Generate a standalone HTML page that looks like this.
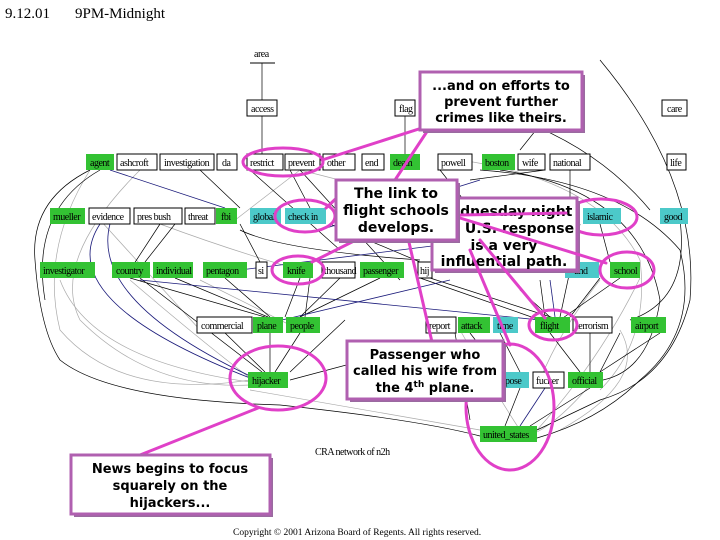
<!DOCTYPE html>
<html><head><meta charset="utf-8"><style>
html,body{margin:0;padding:0;background:#fff;}
svg{display:block}
.n{font-family:"Liberation Serif",serif;font-size:10px;letter-spacing:-0.5px;fill:#000}
.cb{font-family:"DejaVu Sans","Liberation Sans",sans-serif;font-size:13px;font-weight:bold;fill:#000}
</style></head><body>
<svg width="720" height="540" viewBox="0 0 720 540" xmlns="http://www.w3.org/2000/svg">
<rect width="720" height="540" fill="#fff"/>
<text x="5" y="18" font-family="Liberation Serif,serif" font-size="15">9.12.01</text>
<text x="75" y="18" font-family="Liberation Serif,serif" font-size="15">9PM-Midnight</text>

<g stroke="#aaa" stroke-width="0.7" fill="none">
<path d="M90 170 Q40 250 60 330 Q120 400 250 380"/>
<path d="M140 170 Q50 260 80 320 Q150 390 250 385"/>
<path d="M60 280 Q90 360 250 382"/>
<path d="M130 280 Q200 340 250 378"/>
<path d="M230 224 L300 170"/>
<path d="M460 160 Q600 180 640 260 Q650 340 600 390"/>
<path d="M600 280 Q560 330 540 380"/>
<path d="M640 278 Q600 360 537 430"/>
<path d="M300 170 Q420 200 520 230"/>
<path d="M200 280 L300 330"/>
<path d="M460 330 Q500 400 520 430"/>
<path d="M620 330 Q650 380 560 430"/>
<path d="M250 390 L480 430"/>
<path d="M100 220 L200 330"/>
<path d="M590 385 Q560 420 537 432"/>
<path d="M160 224 Q230 250 300 270"/>
</g>
<g stroke="#000" stroke-width="0.7" fill="none">
<path d="M262 63 V100 M262 116 V154"/>
<path d="M405 116 V154"/>
<path d="M90 170 Q30 200 35 260 Q40 330 60 360 Q110 400 280 405 Q420 420 480 436"/>
<path d="M100 170 Q30 210 45 300"/>
<path d="M545 170 L470 180"/>
<path d="M570 170 V200"/>
<path d="M480 170 Q620 180 680 250 Q700 330 640 380 Q600 420 537 438"/>
<path d="M500 170 Q640 190 660 300 Q650 370 603 380"/>
<path d="M520 120 Q600 150 650 210"/>
<path d="M600 60 Q700 180 690 300 Q670 380 600 400 L537 430"/>
<path d="M160 224 L130 270 M175 224 L145 262"/>
<path d="M130 278 L265 317 M140 278 L262 372 M175 278 L268 317 M225 278 L270 317"/>
<path d="M270 333 L270 372 M300 333 L275 372 M225 333 L265 372 M290 372 L345 320 M290 380 L440 340"/>
<path d="M300 278 L285 317 M310 278 L305 317 M340 278 L300 317"/>
<path d="M380 278 L300 317 M420 278 L540 320 M430 278 L560 320"/>
<path d="M250 170 L340 250 M290 170 L310 208 M300 170 L400 280"/>
<path d="M200 170 L240 208 M240 224 L260 262"/>
<path d="M240 230 Q280 250 420 260"/>
<path d="M330 224 L420 262 M580 224 L560 317 M600 224 L610 262"/>
<path d="M620 278 L560 320 M660 333 L600 372 M620 333 L600 372 M590 333 L590 372"/>
<path d="M470 333 L500 372 M500 333 L520 372 M550 333 L580 372"/>
<path d="M520 290 L550 317 M540 280 L545 317 M600 278 L570 317"/>
<path d="M455 333 L470 420 M590 388 L530 426 M520 388 L505 426"/>
<path d="M440 170 L470 208 M520 150 L560 100"/>
<path d="M630 320 Q690 300 680 220"/>
</g>
<g stroke="#1a1a7a" stroke-width="0.8" fill="none">
<path d="M110 170 L225 208"/>
<path d="M100 224 Q50 300 250 378"/>
<path d="M110 224 Q90 300 250 376"/>
<path d="M140 280 L540 320"/>
<path d="M282 320 L450 280"/>
<path d="M240 270 L560 230"/>
<path d="M320 230 L480 180"/>
<path d="M545 388 L520 426"/>
<path d="M550 280 L555 317"/>
</g>

<text class="n" x="254" y="57">area</text>
<line x1="250" y1="63" x2="275" y2="63" stroke="#000" stroke-width="1"/>

<g stroke="#000" stroke-width="1">
<rect x="247" y="100" width="30" height="16" fill="#fff"/>
<rect x="395" y="100" width="20" height="16" fill="#fff"/>
<rect x="662" y="100" width="25" height="16" fill="#fff"/>
<rect x="117" y="154" width="40" height="16" fill="#fff"/>
<rect x="160" y="154" width="54" height="16" fill="#fff"/>
<rect x="217" y="154" width="20" height="16" fill="#fff"/>
<rect x="247" y="154" width="36" height="16" fill="#fff"/>
<rect x="285" y="154" width="35" height="16" fill="#fff"/>
<rect x="323" y="154" width="32" height="16" fill="#fff"/>
<rect x="362" y="154" width="22" height="16" fill="#fff"/>
<rect x="438" y="154" width="34" height="16" fill="#fff"/>
<rect x="518" y="154" width="27" height="16" fill="#fff"/>
<rect x="550" y="154" width="40" height="16" fill="#fff"/>
<rect x="667" y="154" width="19" height="16" fill="#fff"/>
<rect x="89" y="208" width="41" height="16" fill="#fff"/>
<rect x="134" y="208" width="48" height="16" fill="#fff"/>
<rect x="185" y="208" width="30" height="16" fill="#fff"/>
<rect x="256" y="262" width="11" height="16" fill="#fff"/>
<rect x="322" y="262" width="33" height="16" fill="#fff"/>
<rect x="418" y="262" width="14" height="16" fill="#fff"/>
<rect x="197" y="317" width="55" height="16" fill="#fff"/>
<rect x="426" y="317" width="30" height="16" fill="#fff"/>
<rect x="573" y="317" width="39" height="16" fill="#fff"/>
<rect x="533" y="372" width="31" height="16" fill="#fff"/>
</g>
<g fill="#33c233">
<rect x="86" y="154" width="28" height="16"/>
<rect x="390" y="154" width="30" height="16"/>
<rect x="482" y="154" width="33" height="16"/>
<rect x="50" y="208" width="35" height="16"/>
<rect x="216" y="208" width="21" height="16"/>
<rect x="40" y="262" width="55" height="16"/>
<rect x="112" y="262" width="38" height="16"/>
<rect x="153" y="262" width="40" height="16"/>
<rect x="203" y="262" width="44" height="16"/>
<rect x="283" y="262" width="30" height="16"/>
<rect x="360" y="262" width="44" height="16"/>
<rect x="610" y="262" width="30" height="16"/>
<rect x="253" y="317" width="30" height="16"/>
<rect x="286" y="317" width="34" height="16"/>
<rect x="458" y="317" width="32" height="16"/>
<rect x="535" y="317" width="35" height="16"/>
<rect x="631" y="317" width="35" height="16"/>
<rect x="248" y="372" width="40" height="16"/>
<rect x="568" y="372" width="35" height="16"/>
<rect x="480" y="426" width="57" height="16"/>
</g>
<g fill="#4cc9c9">
<rect x="250" y="208" width="31" height="16"/>
<rect x="285" y="208" width="41" height="16"/>
<rect x="583" y="208" width="38" height="16"/>
<rect x="660" y="208" width="28" height="16"/>
<rect x="565" y="262" width="34" height="16"/>
<rect x="493" y="317" width="25" height="16"/>
<rect x="503" y="372" width="26" height="16"/>
</g>
<g class="n">
<text x="251" y="112">access</text><text x="399" y="112">flag</text><text x="667" y="112">care</text>
<text x="90" y="166">agent</text><text x="120" y="166">ashcroft</text><text x="164" y="166">investigation</text><text x="222" y="166">da</text>
<text x="250" y="166">restrict</text><text x="288" y="166">prevent</text><text x="327" y="166">other</text><text x="365" y="166">end</text>
<text x="393" y="166">death</text><text x="441" y="166">powell</text><text x="485" y="166">boston</text><text x="522" y="166">wife</text><text x="553" y="166">national</text><text x="670" y="166">life</text>
<text x="53" y="220">mueller</text><text x="92" y="220">evidence</text><text x="137" y="220">pres bush</text><text x="188" y="220">threat</text><text x="221" y="220">fbi</text>
<text x="253" y="220">global</text><text x="288" y="220">check in</text><text x="587" y="220">islamic</text><text x="664" y="220">good</text>
<text x="43" y="274">investigator</text><text x="116" y="274">country</text><text x="156" y="274">individual</text><text x="206" y="274">pentagon</text>
<text x="258" y="274">si</text><text x="287" y="274">knife</text><text x="324" y="274">thousand</text><text x="363" y="274">passenger</text><text x="420" y="274">hij</text>
<text x="574" y="274">und</text><text x="614" y="274">school</text>
<text x="201" y="329">commercial</text><text x="257" y="329">plane</text><text x="290" y="329">people</text><text x="429" y="329">report</text><text x="461" y="329">attack</text>
<text x="497" y="329">time</text><text x="540" y="329">flight</text><text x="576" y="329">terrorism</text><text x="635" y="329">airport</text>
<text x="252" y="384">hijacker</text><text x="505" y="384">pose</text><text x="536" y="384">fucker</text><text x="572" y="384">official</text>
<text x="483" y="438">united_states</text>
<text x="315" y="455">CRA network of n2h</text>
</g>
<text x="233" y="535" font-family="Liberation Serif,serif" font-size="9.5">Copyright © 2001 Arizona Board of Regents. All rights reserved.</text>

<g stroke="#e040c8" stroke-width="3" fill="none" stroke-linecap="round">
<path d="M422 128 L322 160"/>
<path d="M428 130 L395 180"/>
<path d="M345 190 L326 208"/>
<path d="M360 238 L312 262"/>
<path d="M408 238 L432 342"/>
<path d="M135 457 L258 408"/>
</g>
<g stroke="#e040c8" stroke-width="3" fill="none">
<ellipse cx="283" cy="162" rx="40" ry="14"/>
<ellipse cx="305" cy="216" rx="30" ry="16"/>
<ellipse cx="298" cy="270" rx="26" ry="14"/>
<ellipse cx="601" cy="217" rx="36" ry="18"/>
<ellipse cx="627" cy="270" rx="27" ry="18"/>
<ellipse cx="553" cy="325" rx="24" ry="15"/>
<ellipse cx="278" cy="378" rx="48" ry="32"/>
<ellipse cx="510" cy="407" rx="44" ry="63"/>
</g>

<g fill="#fff" stroke="#b060b0" stroke-width="3">
<rect x="423" y="75" width="162" height="58" fill="#9a6aa0" stroke="none"/>
<rect x="420" y="72" width="162" height="58"/>
<rect x="435" y="201" width="145" height="72" fill="#9a6aa0" stroke="none"/>
<rect x="432" y="198" width="145" height="72"/>
<rect x="350" y="344" width="156" height="58" fill="#9a6aa0" stroke="none"/>
<rect x="347" y="341" width="156" height="58"/>
<rect x="74" y="458" width="199" height="59" fill="#9a6aa0" stroke="none"/>
<rect x="71" y="455" width="199" height="59"/>
</g>
<g class="cb" text-anchor="middle">
<text x="501" y="90">...and on efforts to</text><text x="501" y="106">prevent further</text><text x="501" y="122">crimes like theirs.</text>
<text x="504" y="216" font-size="14">Wednesday night</text><text x="504" y="233" font-size="14">the U.S. response</text><text x="504" y="250" font-size="14">is a very</text><text x="504" y="266" font-size="14">influential path.</text>
</g>
<g stroke="#e040c8" stroke-width="3" fill="none" stroke-linecap="round">
<path d="M460 215 L566 213"/><path d="M460 218 L606 263"/><path d="M480 240 L545 318"/><path d="M470 250 L510 345"/>
</g>
<rect x="339" y="183" width="121" height="60" fill="#9a6aa0"/>
<rect x="336" y="180" width="121" height="60" fill="#fff" stroke="#b060b0" stroke-width="3"/>
<g class="cb" text-anchor="middle">
<text x="396" y="198" font-size="14">The link to</text><text x="396" y="215" font-size="14">flight schools</text><text x="396" y="232" font-size="14">develops.</text>
<text x="425" y="359">Passenger who</text><text x="425" y="375">called his wife from</text><text x="425" y="392">the 4<tspan font-size="9" dy="-5">th</tspan><tspan dy="5"> plane.</tspan></text>
<text x="170" y="473">News begins to focus</text><text x="170" y="490">squarely on the</text><text x="170" y="507">hijackers...</text>
</g>
</svg>
</body></html>
